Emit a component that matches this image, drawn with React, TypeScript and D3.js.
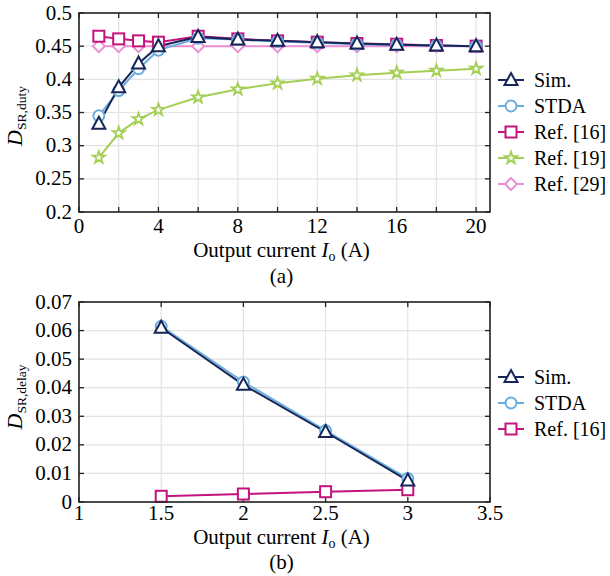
import React from "react";
import * as d3 from "d3";

// Panel (a): duty-cycle estimates vs. output current
const currentA = [1, 2, 3, 4, 6, 8, 10, 12, 14, 16, 18, 20];
const simA = [0.333, 0.388, 0.424, 0.45, 0.464, 0.46, 0.458, 0.456, 0.454, 0.452, 0.451, 0.45];
const stdaA = [0.345, 0.383, 0.416, 0.444, 0.462, 0.46, 0.457, 0.455, 0.453, 0.452, 0.451, 0.45];
const ref16A = [0.465, 0.461, 0.458, 0.456, 0.465, 0.461, 0.458, 0.456, 0.454, 0.453, 0.451, 0.45];
const ref19A = [0.282, 0.319, 0.34, 0.354, 0.373, 0.385, 0.394, 0.401, 0.406, 0.41, 0.413, 0.416];
const ref29A = [0.45, 0.45, 0.45, 0.45, 0.45, 0.45, 0.45, 0.45, 0.45, 0.45, 0.45, 0.45];
const xTicksA = [0, 4, 8, 12, 16, 20];
const yTicksA = [0.2, 0.25, 0.3, 0.35, 0.4, 0.45, 0.5];

// Panel (b): delay-induced duty error vs. output current
const currentB = [1.5, 2, 2.5, 3];
const simB = [0.061, 0.041, 0.0245, 0.0075];
const stdaB = [0.0615, 0.042, 0.025, 0.0082];
const ref16B = [0.002, 0.0028, 0.0036, 0.0043];
const xTicksB = [1, 1.5, 2, 2.5, 3, 3.5];
const yTicksB = [0, 0.01, 0.02, 0.03, 0.04, 0.05, 0.06, 0.07];

const FONT = "'Liberation Serif', 'Times New Roman', serif";
const C = {
  sim: "#172659",
  stda: "#6aaee0",
  ref16: "#c4127e",
  ref19: "#a4cf55",
  ref29: "#ea8fd6",
};

type Shape = "triangle" | "circle" | "square" | "star" | "diamond";

function Marker({ shape, x, y, color }: { shape: Shape; x: number; y: number; color: string }) {
  const common = { fill: "#fff", stroke: color, strokeWidth: 2 };
  if (shape === "circle") return <circle cx={x} cy={y} r={5.5} {...common} />;
  if (shape === "square") return <rect x={x - 5.5} y={y - 5.5} width={11} height={11} {...common} />;
  if (shape === "triangle") {
    return <path d={`M${x},${y - 7} L${x + 6.5},${y + 5} L${x - 6.5},${y + 5} Z`} {...common} />;
  }
  if (shape === "diamond") {
    return <path d={`M${x},${y - 6} L${x + 6},${y} L${x},${y + 6} L${x - 6},${y} Z`} {...common} />;
  }
  const p = d3.symbol(d3.symbolStar, 45)() as string;
  return <path d={p} transform={`translate(${x},${y})`} {...common} strokeWidth={1.8} />;
}

type Series = { name: string; xs: number[]; ys: number[]; color: string; shape: Shape };

type TextOffsets = { tick: number; label: number; caption: number };

function Panel({
  top, bottom, xDomain, yDomain, xGrid, yGrid, xTicks, yTicks, yFmt,
  series, legend, ylabelSub, ylabelY, caption, legendY, offs,
}: {
  top: number; bottom: number; xDomain: [number, number]; yDomain: [number, number];
  xGrid: number[]; yGrid: number[]; xTicks: number[]; yTicks: number[];
  yFmt: (v: number) => string;
  series: Series[]; legend: Series[]; ylabelSub: string; ylabelY: number;
  caption: string; legendY: number; offs: TextOffsets;
}) {
  const left = 79, right = 490;
  const x = d3.scaleLinear().domain(xDomain).range([left, right]);
  const y = d3.scaleLinear().domain(yDomain).range([bottom, top]);
  const line = (s: Series) =>
    d3.line<number>().x((_, i) => x(s.xs[i])).y((v) => y(v))(s.ys) as string;
  const cx = (left + right) / 2 - 3;
  return (
    <g style={{ fontFamily: FONT }}>
      {xGrid.map((v) => (
        <line key={"gx" + v} x1={x(v)} x2={x(v)} y1={top} y2={bottom} stroke="#e3e3e3" strokeWidth={1.2} />
      ))}
      {yGrid.map((v) => (
        <line key={"gy" + v} x1={left} x2={right} y1={y(v)} y2={y(v)} stroke="#e3e3e3" strokeWidth={1.2} />
      ))}
      {/* inward ticks on all four sides */}
      {xGrid.map((v) => (
        <g key={"tx" + v}>
          <line x1={x(v)} x2={x(v)} y1={bottom} y2={bottom - 5} stroke="#222" strokeWidth={1.3} />
          <line x1={x(v)} x2={x(v)} y1={top} y2={top + 5} stroke="#222" strokeWidth={1.3} />
        </g>
      ))}
      {yGrid.map((v) => (
        <g key={"ty" + v}>
          <line x1={left} x2={left + 5} y1={y(v)} y2={y(v)} stroke="#222" strokeWidth={1.3} />
          <line x1={right} x2={right - 5} y1={y(v)} y2={y(v)} stroke="#222" strokeWidth={1.3} />
        </g>
      ))}
      {series.map((s) => (
        <path key={"l" + s.name} d={line(s)} fill="none" stroke={s.color} strokeWidth={2} />
      ))}
      {series.map((s) =>
        s.ys.map((v, i) => (
          <Marker key={s.name + i} shape={s.shape} x={x(s.xs[i])} y={y(v)} color={s.color} />
        ))
      )}
      <rect x={left} y={top} width={right - left} height={bottom - top} fill="none" stroke="#222" strokeWidth={1.6} />
      {xTicks.map((v) => (
        <text key={"xl" + v} x={x(v)} y={bottom + offs.tick} textAnchor="middle" fontSize={21}>
          {String(v)}
        </text>
      ))}
      {yTicks.map((v) => (
        <text key={"yl" + v} x={left - 7} y={y(v) + 6.5} textAnchor="end" fontSize={21}>
          {yFmt(v)}
        </text>
      ))}
      <text x={cx} y={bottom + offs.label} textAnchor="middle" fontSize={21}>
        Output current <tspan fontStyle="italic">I</tspan>
        <tspan fontSize={14} dy={4}>o</tspan>
        <tspan dy={-4}> (A)</tspan>
      </text>
      <text x={cx} y={bottom + offs.caption} textAnchor="middle" fontSize={21}>
        {caption}
      </text>
      <text
        transform={`translate(22, ${ylabelY}) rotate(-90)`}
        textAnchor="middle"
        fontSize={22}
      >
        <tspan fontStyle="italic">D</tspan>
        <tspan fontSize={13.5} dy={4}>{ylabelSub}</tspan>
      </text>
      {legend.map((s, i) => {
        const ly = legendY + i * 26;
        return (
          <g key={"lg" + s.name}>
            <line x1={498} x2={524} y1={ly} y2={ly} stroke={s.color} strokeWidth={2} />
            <Marker shape={s.shape} x={511} y={ly} color={s.color} />
            <text x={534} y={ly + 7} fontSize={20}>
              {s.name}
            </text>
          </g>
        );
      })}
    </g>
  );
}

export default function App() {
  const sim: Omit<Series, "xs" | "ys"> = { name: "Sim.", color: C.sim, shape: "triangle" };
  const stda: Omit<Series, "xs" | "ys"> = { name: "STDA", color: C.stda, shape: "circle" };
  const r16: Omit<Series, "xs" | "ys"> = { name: "Ref. [16]", color: C.ref16, shape: "square" };
  const r19: Omit<Series, "xs" | "ys"> = { name: "Ref. [19]", color: C.ref19, shape: "star" };
  const r29: Omit<Series, "xs" | "ys"> = { name: "Ref. [29]", color: C.ref29, shape: "diamond" };

  const legendA: Series[] = [
    { ...sim, xs: currentA, ys: simA },
    { ...stda, xs: currentA, ys: stdaA },
    { ...r16, xs: currentA, ys: ref16A },
    { ...r19, xs: currentA, ys: ref19A },
    { ...r29, xs: currentA, ys: ref29A },
  ];
  const legendB: Series[] = [
    { ...sim, xs: currentB, ys: simB },
    { ...stda, xs: currentB, ys: stdaB },
    { ...r16, xs: currentB, ys: ref16B },
  ];
  // draw back-to-front so the simulation trace sits on top
  const drawA = [...legendA].reverse();
  const drawB = [...legendB].reverse();

  return (
    <svg width={610} height={576} style={{ position: "absolute", left: 0, top: 0, background: "#fff" }}>
      <rect width={610} height={576} fill="#fff" />
      <Panel
        top={13} bottom={212} xDomain={[0, 20.7]} yDomain={[0.2, 0.5]}
        xGrid={d3.range(0, 21, 2)} yGrid={yTicksA} xTicks={xTicksA} yTicks={yTicksA}
        yFmt={(v) => String(v)}
        series={drawA} legend={legendA} ylabelSub="SR,duty" ylabelY={116}
        caption="(a)" legendY={80} offs={{ tick: 21, label: 45, caption: 71 }}
      />
      <Panel
        top={302} bottom={502} xDomain={[1, 3.5]} yDomain={[0, 0.07]}
        xGrid={xTicksB} yGrid={yTicksB} xTicks={xTicksB} yTicks={yTicksB}
        yFmt={(v) => (v === 0 ? "0" : v.toFixed(2))}
        series={drawB} legend={legendB} ylabelSub="SR,delay" ylabelY={397}
        caption="(b)" legendY={377} offs={{ tick: 18, label: 42, caption: 67 }}
      />
    </svg>
  );
}
